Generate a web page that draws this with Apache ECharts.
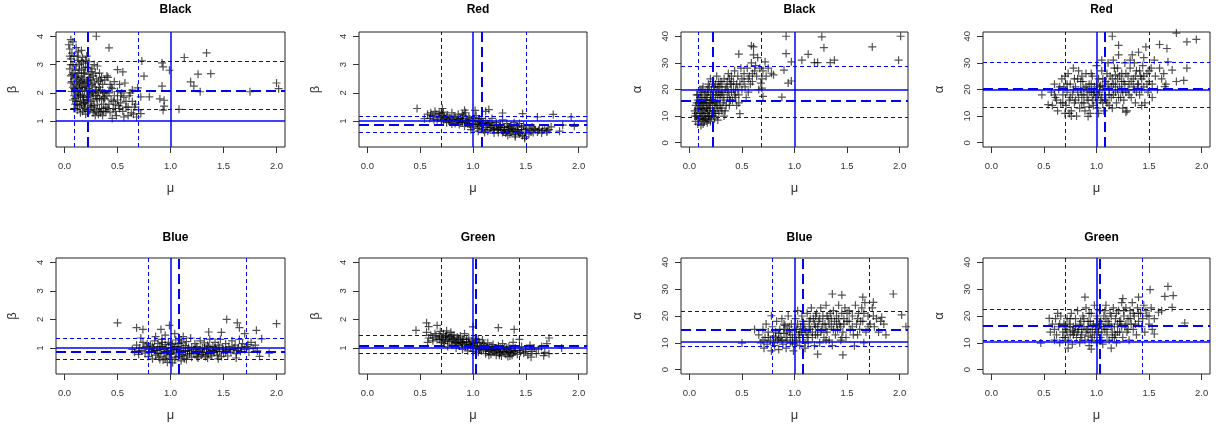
<!DOCTYPE html>
<html><head><meta charset="utf-8">
<script src="https://cdn.jsdelivr.net/npm/echarts@6/dist/echarts.min.js"></script>
<style>html,body{margin:0;padding:0;background:#fff}#c{width:1216px;height:426px}</style>
</head><body><div id="c"></div>
<script>
const muTicks = [0, 0.5, 1, 1.5, 2];
const betaTicks = [1, 2, 3, 4];
const alphaTicks = [0, 10, 20, 30, 40];
const panelTitles = ['Black', 'Red', 'Black', 'Red', 'Blue', 'Green', 'Blue', 'Green'];
const panelYName = ['β', 'β', 'α', 'α', 'β', 'β', 'α', 'α'];

// reference lines per panel
const vSolid = [1, 1, 1, 1, 1, 1, 1, 1];
const hSolid = [1, 1, 20, 20, 1, 1, 10.3, 10.3];
const vThick = [0.22, 1.08, 0.22, 1.08, 1.08, 1.03, 1.08, 1.03];
const hThick = [2.08, 0.86, 15.8, 20.3, 0.88, 1.08, 14.7, 16.3];
const vThin = [[0.09, 0.70], [0.70, 1.50], [0.08, 0.68], [0.70, 1.50], [0.79, 1.71], [0.70, 1.44], [0.79, 1.71], [0.70, 1.44]];
const hThin = [[3.13, 1.42], [1.18, 0.61], [28.6, 9.4], [30.2, 13.3], [1.33, 0.61], [1.45, 0.81], [21.9, 8.8], [22.5, 11.1]];

const ptsBlackBeta = [
[0.05,3.55],[0.07,3.4],[0.06,3.2],[0.08,3.0],[0.05,2.85],[0.07,2.65],[0.09,2.5],[0.06,2.35],[0.08,2.2],[0.07,2.05],[0.09,1.9],[0.08,1.75],[0.10,1.6],[0.09,1.45],[0.04,3.7],[0.06,2.6],[0.10,2.8],[0.10,2.1],
[0.11,3.6],[0.12,3.3],[0.13,3.15],[0.11,2.95],[0.14,2.8],[0.12,2.6],[0.13,2.45],[0.11,2.3],[0.14,2.15],[0.12,2.0],[0.13,1.85],[0.11,1.7],[0.14,1.55],[0.12,1.4],[0.15,1.3],[0.14,3.0],[0.15,2.4],[0.15,1.9],
[0.16,3.5],[0.17,3.25],[0.18,3.05],[0.16,2.85],[0.19,2.7],[0.17,2.5],[0.18,2.35],[0.16,2.2],[0.19,2.05],[0.17,1.9],[0.18,1.75],[0.16,1.6],[0.19,1.45],[0.17,1.35],[0.20,1.25],[0.20,2.9],[0.20,2.2],[0.20,1.65],
[0.21,3.3],[0.23,3.1],[0.22,2.9],[0.25,2.75],[0.24,2.55],[0.21,2.4],[0.26,2.3],[0.23,2.15],[0.27,2.0],[0.22,1.85],[0.25,1.7],[0.28,1.55],[0.24,1.4],[0.27,1.3],[0.29,1.2],[0.28,3.0],[0.30,2.5],[0.29,2.2],[0.30,1.8],[0.26,1.5],[0.24,1.95],[0.27,2.6],[0.22,1.6],[0.30,1.35],
[0.31,2.95],[0.33,2.7],[0.35,2.55],[0.32,2.4],[0.36,2.3],[0.34,2.1],[0.38,2.0],[0.31,1.9],[0.35,1.75],[0.37,1.6],[0.33,1.45],[0.39,1.35],[0.32,1.25],[0.36,1.2],[0.40,2.6],[0.38,2.45],[0.40,1.9],[0.39,1.5],[0.33,2.2],[0.37,1.85],[0.34,1.3],
[0.41,2.55],[0.43,2.3],[0.45,2.15],[0.42,2.0],[0.47,1.9],[0.44,1.75],[0.48,1.6],[0.46,1.45],[0.43,1.3],[0.49,1.2],[0.47,2.4],[0.50,2.05],[0.45,1.1],[0.42,1.6],[0.50,1.75],
[0.52,2.3],[0.54,2.0],[0.56,1.85],[0.53,1.65],[0.58,1.5],[0.55,1.35],[0.60,1.2],[0.62,2.0],[0.64,1.7],[0.66,1.5],[0.63,1.3],[0.68,1.15],[0.70,1.4],[0.57,2.35],[0.61,1.9],[0.67,1.6],[0.52,1.45],[0.56,1.15],
[0.06,3.0],[0.08,2.7],[0.07,2.4],[0.09,2.15],[0.10,1.8],[0.11,2.55],[0.12,2.25],[0.13,1.95],[0.13,2.7],[0.14,2.35],[0.15,2.05],[0.15,1.7],[0.16,3.1],[0.16,2.55],[0.17,2.2],[0.18,1.85],[0.18,2.7],[0.19,2.35],[0.19,1.65],[0.20,3.15],[0.21,2.1],[0.21,1.75],[0.22,2.45],[0.22,1.35],[0.23,2.65],[0.23,1.9],[0.24,2.25],[0.25,1.55],[0.25,2.45],[0.26,2.0],[0.27,1.75],[0.28,2.35],[0.28,1.4],[0.29,2.7],[0.29,1.9],[0.30,2.1],[0.31,1.6],[0.32,2.05],[0.33,1.8],[0.34,2.45],[0.35,1.45],[0.36,2.0],[0.37,1.35],[0.38,1.8],[0.41,1.45],[0.44,2.2],[0.46,1.7],[0.48,1.35],[0.51,1.55],[0.53,1.9],[0.58,1.7],[0.60,1.5],[0.65,1.25],[0.05,3.3],[0.09,3.3],[0.13,3.45],[0.12,1.6],[0.10,1.45],[0.18,1.5],[0.26,2.85],
[0.30,4.0],[0.42,3.59],[0.73,3.13],[0.75,2.59],[0.92,3.06],[0.93,2.92],[0.99,2.80],[0.92,2.24],[0.90,1.79],[0.94,1.74],[0.93,1.39],[1.08,1.42],[0.94,1.53],[1.13,3.25],[1.34,3.41],[1.26,2.66],[1.38,2.68],[1.19,2.39],[1.22,2.24],[1.28,2.04],[1.75,2.04],[2.0,2.35],[2.02,2.15],[0.80,1.86],[0.72,1.86],[0.72,1.27],[0.06,3.88],[0.08,3.8],[0.69,2.18],[0.64,2.1],[0.50,2.82],[0.55,2.74]
];
const ptsRedBeta = [
[0.57,1.25],[0.59,1.1],[0.60,1.3],[0.62,1.18],[0.63,1.05],[0.65,1.25],[0.64,1.35],
[0.67,1.12],[0.68,1.28],[0.70,1.0],[0.71,1.2],[0.72,1.32],[0.74,1.08],[0.75,0.95],[0.76,1.22],[0.78,1.12],[0.79,0.98],[0.80,1.3],[0.73,1.15],[0.77,1.05],
[0.82,1.18],[0.83,0.92],[0.84,1.05],[0.86,1.25],[0.87,0.88],[0.88,1.1],[0.90,0.98],[0.91,1.2],[0.92,0.82],[0.94,1.05],[0.95,0.92],[0.96,1.15],[0.98,0.8],[0.99,1.0],[0.85,0.98],[0.93,1.3],[0.97,0.9],[0.89,1.02],
[1.01,1.12],[1.02,0.88],[1.04,0.75],[1.05,1.0],[1.06,0.82],[1.08,1.1],[1.09,0.92],[1.10,0.7],[1.12,1.02],[1.13,0.85],[1.14,0.65],[1.16,0.95],[1.17,0.78],[1.18,1.1],[1.19,0.68],[1.03,1.2],[1.11,0.6],[1.15,0.9],[1.07,0.95],[1.20,0.85],
[1.22,0.95],[1.23,0.72],[1.24,0.6],[1.26,0.88],[1.27,0.68],[1.28,1.05],[1.30,0.78],[1.31,0.58],[1.32,0.92],[1.34,0.7],[1.35,0.55],[1.36,0.85],[1.38,0.65],[1.39,0.95],[1.40,0.52],[1.25,0.8],[1.29,0.62],[1.33,0.8],[1.37,0.75],
[1.42,0.8],[1.43,0.62],[1.44,0.92],[1.46,0.7],[1.47,0.5],[1.48,0.85],[1.50,0.62],[1.51,0.75],[1.53,0.55],[1.54,0.68],[1.56,0.8],[1.57,0.6],[1.59,0.7],[1.45,0.58],[1.49,0.45],
[1.61,0.62],[1.63,0.72],[1.65,0.58],[1.66,0.68],[1.68,0.75],[1.70,0.62],[1.72,0.7],[1.74,0.8],
[0.60,1.2],[0.66,1.05],[0.69,1.15],[0.72,1.05],[0.75,1.15],[0.78,1.0],[0.81,1.05],[0.83,1.12],[0.86,1.05],[0.88,0.95],[0.90,1.1],[0.93,0.95],[0.95,1.02],[0.97,1.08],[1.00,0.9],[1.02,1.0],[1.04,0.9],[1.06,1.08],[1.08,0.85],[1.10,0.95],[1.12,0.78],[1.14,0.92],[1.16,0.7],[1.18,0.85],[1.20,0.75],[1.22,0.85],[1.24,0.7],[1.26,0.78],[1.28,0.6],[1.30,0.7],[1.32,0.65],[1.34,0.8],[1.36,0.62],[1.38,0.72],[1.40,0.65],[1.42,0.7],[1.44,0.55],[1.46,0.8],[1.50,0.7],[1.55,0.62],[1.58,0.75],[1.62,0.68],[0.80,0.9],[0.98,0.7],[1.05,0.65],[1.20,0.58],[1.33,0.5],[1.40,0.45],[0.70,1.3],[0.90,1.25],
[0.47,1.45],[0.71,1.45],[1.15,1.41],[1.28,1.29],[1.47,1.27],[1.61,1.15],[1.76,1.24],[1.93,1.15],[1.96,0.82],[1.85,0.86],[1.82,0.65],[1.70,0.66],[0.54,1.09],[0.92,1.39],[1.49,0.39],[1.12,1.35],[1.02,1.38]
];
const ptsBlackAlpha = [
[0.05,12],[0.06,14],[0.07,10],[0.08,16],[0.06,8],[0.09,13],[0.07,18],[0.10,11],[0.08,7],[0.09,15],[0.10,20],[0.05,10],[0.10,9],
[0.11,13],[0.12,17],[0.13,10],[0.11,19],[0.14,8],[0.12,14],[0.13,21],[0.14,12],[0.15,16],[0.11,6.5],[0.13,15],[0.15,9],[0.12,11],[0.14,18],
[0.16,13],[0.17,20],[0.18,10],[0.16,17],[0.19,15],[0.17,7.5],[0.18,22],[0.19,12],[0.20,18],[0.16,9],[0.18,14],[0.20,24],[0.17,11],[0.20,8],
[0.21,16],[0.22,12],[0.23,20],[0.24,9],[0.25,18],[0.26,14],[0.22,23],[0.27,21],[0.28,11],[0.29,17],[0.30,23],[0.24,15],[0.26,25],[0.28,19],[0.30,13],[0.23,10],[0.25,22],[0.27,8.5],
[0.31,19],[0.32,15],[0.33,24],[0.34,12],[0.35,21],[0.36,17],[0.37,26],[0.38,14],[0.39,22],[0.40,19],[0.33,10],[0.36,23],[0.40,25],[0.38,17],
[0.41,16],[0.42,23],[0.43,27],[0.44,20],[0.45,14],[0.46,25],[0.47,18],[0.48,22],[0.49,28],[0.50,24],[0.44,17],[0.47,15],
[0.52,26],[0.53,21],[0.55,28],[0.56,19],[0.57,25],[0.59,30],[0.60,23],[0.62,27],[0.64,25],[0.65,32],[0.67,28],[0.69,24],[0.54,17],[0.58,22],[0.63,29],[0.66,20],[0.70,27],[0.61,33],
[0.06,11],[0.07,15],[0.08,12.5],[0.09,9],[0.10,14],[0.11,16],[0.11,10],[0.12,8.5],[0.12,20],[0.13,12.5],[0.14,15],[0.15,11],[0.15,19],[0.16,15],[0.17,13],[0.17,17],[0.18,8.5],[0.18,19],[0.19,10],[0.19,21],[0.20,13],[0.20,16],[0.21,10],[0.21,20],[0.22,14],[0.22,18],[0.23,16],[0.24,12],[0.24,21],[0.25,11],[0.25,15],[0.26,19],[0.27,13],[0.27,17],[0.28,23],[0.29,14],[0.29,21],[0.30,18],[0.31,12],[0.31,22],[0.32,18],[0.33,16],[0.34,20],[0.35,14],[0.36,20],[0.37,19],[0.38,24],[0.39,16],[0.40,22],[0.42,20],[0.43,18],[0.45,22],[0.46,20],[0.50,20],[0.52,23],[0.56,24],[0.60,26],[0.08,18],[0.10,17],[0.13,7],
[0.92,40],[0.92,33.5],[0.97,30.4],[0.90,27.3],[0.88,17.1],[0.97,23.2],[0.94,22.4],[1.07,31],[1.13,33.2],[1.19,30.1],[1.22,30.1],[1.26,39.8],[1.28,35.7],[1.34,30.1],[1.38,31],[1.74,36],[2.01,40],[1.99,31],[0.47,33.3],[0.59,36.4],[0.61,36],[0.48,10.9],[0.70,17.4],[0.72,30.4],[0.78,26.1],[0.69,20.5],[0.68,22.4],[0.75,28],[0.73,25],[0.80,25.5]
];
const ptsRedAlpha = [
[0.57,19],[0.58,14],[0.60,22],[0.61,17],[0.63,12],[0.64,20],[0.66,15],[0.67,24],[0.68,18],[0.70,11],[0.69,21],[0.62,16],
[0.71,14],[0.72,19],[0.73,26],[0.74,16],[0.75,22],[0.76,12],[0.77,18],[0.78,28],[0.79,15],[0.80,21],[0.81,10],[0.82,24],[0.83,17],[0.84,13],[0.85,20],[0.74,11],[0.79,24],[0.83,27],
[0.86,15],[0.87,23],[0.88,18],[0.89,12],[0.90,26],[0.91,20],[0.92,16],[0.93,22],[0.94,11],[0.95,19],[0.96,25],[0.97,14],[0.98,21],[0.99,17],[1.00,29],[0.88,20.5],[0.93,13.5],[0.97,18],
[1.01,13],[1.02,24],[1.03,19],[1.04,16],[1.05,27],[1.06,21],[1.07,12],[1.08,18],[1.09,23],[1.10,15],[1.11,30],[1.12,20],[1.13,25],[1.14,17],[1.15,13],[1.04,21.5],[1.10,26],[1.06,15],
[1.16,22],[1.17,28],[1.18,19],[1.19,15],[1.20,24],[1.21,33],[1.22,21],[1.23,17],[1.24,26],[1.25,13],[1.26,23],[1.27,30],[1.28,19],[1.29,12],[1.30,25],[1.18,25.5],[1.24,20],
[1.31,22],[1.32,28],[1.33,17],[1.34,33],[1.35,24],[1.36,20],[1.37,15],[1.38,27],[1.39,22],[1.40,34],[1.41,18],[1.42,25],[1.44,29],[1.45,21],[1.46,15],[1.47,36],[1.48,26],[1.49,19],[1.50,23],[1.36,30],[1.43,20],
[1.52,28],[1.53,22],[1.55,31],[1.56,25],[1.58,20],[1.60,28],[1.62,24],[1.64,26],[1.66,22],[1.53,17],
[0.60,18],[0.65,21],[0.68,15],[0.72,22],[0.75,17],[0.78,20],[0.80,16],[0.82,19],[0.85,23],[0.86,18],[0.88,15],[0.90,21],[0.91,17],[0.93,19],[0.95,22],[0.96,16],[0.98,19],[1.00,22],[1.00,15],[1.02,18],[1.03,21],[1.05,17],[1.06,24],[1.08,20],[1.09,16],[1.11,22],[1.12,18],[1.14,21],[1.15,24],[1.16,18],[1.18,22],[1.20,20],[1.21,17],[1.22,25],[1.24,23],[1.25,19],[1.27,22],[1.28,26],[1.30,20],[1.31,18],[1.33,23],[1.35,21],[1.37,25],[1.38,19],[1.40,22],[1.41,27],[1.43,24],[1.45,25],[1.48,22],[1.50,27],[1.12,14],[1.20,28],[0.95,26],[0.86,25],[1.32,31],[1.45,32],[1.26,16],[0.70,25],[1.02,11],[1.16,31],
[0.48,18],[0.54,14.3],[1.15,40],[1.76,41.2],[1.86,37.9],[1.95,38.8],[1.86,28],[1.83,23.4],[1.76,23],[1.60,36.9],[1.67,35.4],[1.68,30.4],[1.72,27.3],[1.65,21.1],[1.21,36.6],[0.92,9.9],[0.76,10],[1.28,11.5],[1.43,14],[1.05,31]
];
const ptsBlueBeta = [
[0.64,0.95],[0.66,0.85],[0.68,1.1],[0.70,0.78],[0.71,1.0],[0.73,0.9],[0.74,1.2],[0.76,0.82],[0.77,1.05],[0.79,0.7],[0.80,0.95],[0.72,1.35],[0.78,1.15],
[0.81,1.1],[0.82,0.85],[0.83,0.62],[0.84,1.0],[0.85,1.25],[0.86,0.75],[0.87,0.92],[0.88,1.15],[0.89,0.68],[0.90,1.05],[0.91,0.82],[0.92,1.3],[0.93,0.58],[0.94,0.95],[0.95,1.12],[0.96,0.72],[0.97,0.88],[0.98,1.2],[0.99,0.65],[1.00,1.0],[0.86,1.4],[0.95,1.45],[0.90,0.6],[0.97,0.5],
[1.01,0.8],[1.02,1.12],[1.03,0.95],[1.04,0.6],[1.05,1.28],[1.06,0.85],[1.07,1.05],[1.08,0.7],[1.09,0.92],[1.10,1.18],[1.11,0.78],[1.12,1.0],[1.13,0.62],[1.14,0.88],[1.15,1.22],[1.16,0.75],[1.17,1.02],[1.18,0.9],[1.19,1.35],[1.20,0.68],[1.04,1.5],[1.12,1.4],[1.02,0.48],[1.10,0.55],
[1.22,0.95],[1.23,1.15],[1.24,0.8],[1.25,1.05],[1.26,0.65],[1.27,0.9],[1.28,1.25],[1.29,0.75],[1.30,1.0],[1.31,0.85],[1.32,1.18],[1.33,0.7],[1.34,0.95],[1.35,1.1],[1.36,0.8],[1.37,1.3],[1.38,0.9],[1.39,0.72],[1.40,1.05],
[1.41,0.85],[1.42,1.2],[1.43,0.95],[1.44,0.75],[1.45,1.1],[1.46,0.88],[1.47,1.3],[1.48,0.7],[1.49,1.0],[1.50,0.82],[1.52,1.15],[1.53,0.92],[1.54,0.72],[1.55,1.05],[1.57,0.85],[1.58,1.25],[1.59,0.95],
[1.61,1.1],[1.62,0.8],[1.64,1.0],[1.65,1.3],[1.66,0.88],[1.68,1.15],[1.70,0.95],[1.72,1.05],[1.74,0.85],[1.76,1.2],[1.78,0.98],[1.80,1.1],[1.82,0.9],
[0.70,0.9],[0.75,1.0],[0.80,0.85],[0.83,1.05],[0.85,0.92],[0.88,0.8],[0.90,0.95],[0.92,1.05],[0.94,0.8],[0.96,1.0],[0.98,0.9],[1.00,0.78],[1.00,1.15],[1.02,0.9],[1.04,1.05],[1.06,0.95],[1.08,1.15],[1.10,0.85],[1.12,0.72],[1.14,1.08],[1.16,0.92],[1.18,0.8],[1.20,1.02],[1.22,0.82],[1.24,1.0],[1.26,0.85],[1.28,0.95],[1.30,0.78],[1.32,1.0],[1.34,0.85],[1.36,1.05],[1.38,0.8],[1.40,0.92],[1.42,1.0],[1.44,0.88],[1.46,1.02],[1.50,0.95],[1.52,0.85],[1.56,0.95],[1.60,1.0],[1.63,0.92],[1.67,1.02],[0.95,0.62],[1.05,0.68],[1.15,0.6],[1.25,0.7],[1.35,0.65],[1.45,0.62],[0.92,1.2],[1.10,1.28],
[0.50,1.88],[1.53,2.0],[1.63,1.88],[2.0,1.85],[1.65,1.71],[0.68,1.71],[0.74,1.65],[0.91,1.65],[0.99,1.79],[1.36,1.56],[1.81,1.62],[1.93,0.82],[1.84,0.71],[1.62,0.65],[1.73,1.12],[1.86,1.32],[1.70,1.5],[1.48,1.55]
];
const ptsGreenBeta = [
[0.56,1.55],[0.58,1.35],[0.60,1.45],[0.62,1.25],[0.64,1.5],[0.66,1.3],[0.68,1.42],[0.70,1.2],[0.69,1.58],[0.57,1.2],
[0.71,1.35],[0.72,1.5],[0.73,1.15],[0.74,1.28],[0.75,1.45],[0.76,1.05],[0.77,1.38],[0.78,1.22],[0.79,1.55],[0.80,1.1],[0.81,1.32],[0.82,1.45],[0.83,1.18],[0.84,1.0],[0.85,1.38],[0.75,1.6],
[0.86,1.25],[0.87,1.08],[0.88,1.42],[0.89,1.15],[0.90,0.95],[0.91,1.3],[0.92,1.5],[0.93,1.05],[0.94,1.22],[0.95,0.9],[0.96,1.35],[0.97,1.12],[0.98,1.0],[0.99,1.25],[1.00,0.88],[0.90,1.2],
[1.01,1.15],[1.02,1.32],[1.03,0.98],[1.04,1.08],[1.05,0.85],[1.06,1.2],[1.07,1.02],[1.08,0.9],[1.09,1.28],[1.10,0.95],[1.11,1.1],[1.12,0.8],[1.13,1.0],[1.14,1.18],[1.15,0.88],[1.16,1.05],[1.17,0.78],[1.18,0.95],[1.19,1.12],[1.20,0.85],
[1.21,1.0],[1.22,0.75],[1.23,0.92],[1.24,1.08],[1.25,0.82],[1.26,0.98],[1.27,0.72],[1.28,1.15],[1.29,0.88],[1.30,1.02],[1.31,0.78],[1.32,0.95],[1.33,0.7],[1.34,1.05],[1.35,0.85],[1.36,0.98],[1.37,0.75],[1.38,1.2],[1.39,0.88],[1.40,1.0],[1.42,0.78],[1.44,0.92],
[1.46,1.05],[1.48,0.82],[1.50,0.95],[1.52,0.75],[1.54,1.1],[1.56,0.88],[1.58,1.0],[1.60,0.8],[1.62,0.95],[1.65,1.05],[1.68,0.85],[1.70,1.15],
[0.62,1.35],[0.65,1.42],[0.68,1.3],[0.70,1.38],[0.72,1.25],[0.74,1.42],[0.76,1.3],[0.78,1.4],[0.80,1.25],[0.82,1.3],[0.84,1.2],[0.86,1.35],[0.88,1.2],[0.90,1.3],[0.92,1.12],[0.94,1.3],[0.96,1.2],[0.98,1.1],[1.00,1.15],[1.02,1.05],[1.04,1.2],[1.06,0.95],[1.08,1.05],[1.10,1.15],[1.12,0.95],[1.14,1.0],[1.16,0.92],[1.18,1.05],[1.20,0.95],[1.22,0.9],[1.24,0.98],[1.26,0.85],[1.28,0.95],[1.30,0.88],[1.32,1.0],[1.34,0.85],[1.36,0.9],[1.38,0.82],[1.40,0.92],[1.45,0.85],[1.50,0.88],[1.55,0.95],[0.80,1.45],[0.85,1.15],[0.95,1.05],[1.05,1.3],[1.15,0.75],[1.25,0.75],[1.35,0.72],
[0.46,1.62],[0.56,1.88],[0.66,1.79],[1.24,1.71],[1.39,1.65],[1.72,1.35],[1.84,1.0],[1.00,1.74],[1.67,0.73],[1.72,0.8],[1.55,0.68],[0.58,1.75],[1.44,1.3]
];
const ptsBlueAlpha = [
[0.66,13],[0.68,10],[0.70,15],[0.71,8],[0.72,12],[0.74,9.5],[0.75,14],[0.77,11],[0.78,7],[0.79,16],[0.80,12.5],[0.73,17],
[0.81,9],[0.82,14],[0.83,18],[0.84,11],[0.85,7.5],[0.86,15],[0.87,12],[0.88,19],[0.89,9.5],[0.90,13.5],[0.91,16.5],[0.92,8],[0.93,11],[0.94,20],[0.95,14],[0.96,10],[0.97,17],[0.98,12],[0.99,7],[1.00,15],[0.85,11.5],[0.93,14.5],
[1.01,19],[1.02,11],[1.03,22],[1.04,13],[1.05,9],[1.06,16],[1.07,20],[1.08,12],[1.09,17],[1.10,8],[1.11,14],[1.12,21],[1.13,10],[1.14,18],[1.15,15],[1.16,23],[1.17,12],[1.18,19],[1.19,9],[1.20,16],[1.05,14],[1.13,13],
[1.21,21],[1.22,13],[1.23,18],[1.24,10],[1.25,23],[1.26,15],[1.27,20],[1.28,12],[1.29,17],[1.30,24],[1.31,14],[1.32,19],[1.33,11],[1.34,21],[1.35,16],[1.36,9],[1.37,22],[1.38,18],[1.39,13],[1.40,20],
[1.41,15],[1.42,24],[1.43,17],[1.44,11],[1.45,21],[1.46,14],[1.47,19],[1.48,23],[1.49,12],[1.50,18],[1.52,22],[1.53,15],[1.55,20],[1.56,13],[1.58,24],[1.59,17],
[1.61,21],[1.62,15],[1.64,23],[1.65,18],[1.67,25],[1.68,14],[1.70,20],[1.72,17],[1.74,23],[1.76,16],[1.78,19],[1.80,14],[1.82,18],[1.85,17],
[0.70,11],[0.75,12],[0.80,10],[0.82,12],[0.85,13.5],[0.88,11],[0.90,15],[0.92,12],[0.95,16],[0.96,13],[0.98,10],[1.00,12],[1.02,15],[1.03,17],[1.05,12],[1.07,14],[1.08,18],[1.10,15],[1.12,12],[1.14,16],[1.15,19],[1.17,14],[1.19,17],[1.20,13],[1.22,16],[1.24,19],[1.25,14],[1.27,17],[1.30,15],[1.31,20],[1.33,17],[1.35,19],[1.37,15],[1.40,17],[1.42,19],[1.44,16],[1.47,17],[1.50,21],[1.52,18],[1.55,16],[1.60,19],[1.63,18],[1.66,21],[1.70,16],[1.75,20],[0.90,17],[1.10,10],[1.20,20],[1.30,11],[1.45,12],[1.60,13],[1.00,9.5],
[0.50,9.9],[0.78,20.1],[1.36,28.2],[1.45,27.8],[1.94,28.2],[2.02,20.4],[1.46,5.5],[1.22,5.8],[1.57,8.9],[1.65,27.0],[1.75,25.1],[1.83,19.5],[1.87,13],[2.06,16],[1.66,10],[0.62,15]
];
const ptsGreenAlpha = [
[0.56,14],[0.58,17],[0.60,11],[0.61,19],[0.62,13],[0.64,16],[0.65,10],[0.66,20],[0.68,14],[0.69,17],[0.70,12],[0.63,21],
[0.71,15],[0.72,19],[0.73,11],[0.74,17],[0.75,13],[0.76,21],[0.77,9.5],[0.78,16],[0.79,14],[0.80,19],[0.81,12],[0.82,22],[0.83,15],[0.84,10],[0.85,18],[0.77,14.5],
[0.86,13],[0.87,20],[0.88,16],[0.89,11],[0.90,23],[0.91,15],[0.92,18],[0.93,9],[0.94,14],[0.95,21],[0.96,12],[0.97,17],[0.98,24],[0.99,15],[1.00,10],[0.92,12.5],
[1.01,19],[1.02,14],[1.03,22],[1.04,12],[1.05,17],[1.06,9.5],[1.07,20],[1.08,15],[1.09,24],[1.10,13],[1.11,18],[1.12,11],[1.13,21],[1.14,16],[1.15,14],[1.16,23],[1.17,12],[1.18,19],[1.19,10],[1.20,17],
[1.21,22],[1.22,14],[1.23,18],[1.24,25],[1.25,12],[1.26,20],[1.27,16],[1.28,23],[1.29,14],[1.30,19],[1.31,11],[1.32,22],[1.33,17],[1.34,25],[1.35,15],[1.36,20],[1.38,13],[1.39,23],[1.40,18],
[1.42,21],[1.43,16],[1.45,24],[1.46,14],[1.48,20],[1.50,17],[1.52,23],[1.53,15],[1.55,19],
[0.60,15],[0.65,17],[0.68,12],[0.70,16],[0.72,14],[0.75,16],[0.78,13],[0.80,16],[0.82,14],[0.84,17],[0.86,15],[0.88,19],[0.90,14],[0.92,16],[0.94,18],[0.96,15],[0.98,13],[1.00,17],[1.00,20],[1.02,16],[1.04,18],[1.05,14],[1.07,16],[1.09,19],[1.10,15],[1.12,17],[1.14,20],[1.15,12],[1.17,16],[1.19,21],[1.20,14],[1.22,18],[1.24,16],[1.26,22],[1.28,17],[1.30,15],[1.32,19],[1.35,21],[1.37,17],[1.40,21],[1.44,19],[1.47,22],[1.50,20],[0.85,12],[0.95,11],[1.05,11],[1.18,13],[0.75,19],[0.93,21],[1.08,22],
[0.47,9.9],[0.55,19.1],[0.89,27],[1.68,31],[1.73,27.6],[1.65,27.3],[1.51,29.8],[1.72,23.2],[1.84,17.4],[1.59,21.4],[1.55,13.3],[0.73,8],[0.95,7.7],[1.14,8],[1.62,22],[1.40,27],[1.25,26.5]
];
const panelPoints = [ptsBlackBeta, ptsRedBeta, ptsBlackAlpha, ptsRedAlpha, ptsBlueBeta, ptsGreenBeta, ptsBlueAlpha, ptsGreenAlpha];

// layout (pixels)
const colLeft = [56, 359, 681, 983];
const colWidth = [229, 228, 227, 227];
const rowTop = [32, 258];
const rowHeight = [115, 116];
const titleTop = [-1, 227];

const plus = 'path://M3.4,0h1.2v8h-1.2zM0,3.4h8v1.2h-8z';
const BLUE = '#0000ff';
const FONT = 'Liberation Sans, Arial, sans-serif';

const grids = [], xAxes = [], yAxes = [], series = [], titles = [];
for (let i = 0; i < 8; i++) {
  const c = i % 4, r = Math.floor(i / 4);
  const isAlpha = panelYName[i] === 'α';
  grids.push({left: colLeft[c], top: rowTop[r], width: colWidth[c], height: rowHeight[r],
    show: true, borderColor: '#222', borderWidth: 1, backgroundColor: 'rgba(0,0,0,0)'});
  titles.push({text: panelTitles[i], left: colLeft[c] + colWidth[c] / 2, top: titleTop[r], textAlign: 'center',
    textStyle: {fontFamily: FONT, fontWeight: 'bold', fontSize: 12, color: '#000'}});
  xAxes.push({type: 'value', gridIndex: i, min: -0.08, max: 2.08,
    splitLine: {show: false}, axisLine: {show: false, onZero: false},
    axisTick: {show: true, length: 6, inside: false, customValues: muTicks, lineStyle: {color: '#333'}},
    axisLabel: {customValues: muTicks, formatter: v => v.toFixed(1), fontSize: 9.5, color: '#333', margin: 14, fontFamily: FONT},
    name: 'μ', nameLocation: 'middle', nameGap: 35,
    nameTextStyle: {fontSize: 13, color: '#333', fontFamily: FONT}});
  const yt = isAlpha ? alphaTicks : betaTicks;
  yAxes.push({type: 'value', gridIndex: i, min: isAlpha ? -1.6 : 0.09, max: isAlpha ? 41.6 : 4.15,
    splitLine: {show: false}, axisLine: {show: false, onZero: false},
    axisTick: {show: true, length: 6, inside: false, customValues: yt, lineStyle: {color: '#333'}},
    axisLabel: {customValues: yt, rotate: 90, fontSize: 9.5, color: '#333', margin: 11, fontFamily: FONT},
    name: panelYName[i], nameLocation: 'middle', nameGap: 37,
    nameTextStyle: {fontSize: 13, color: '#333', fontFamily: FONT}});
  const ml = [
    {xAxis: vSolid[i], lineStyle: {color: BLUE, width: 1.5, type: 'solid'}},
    {yAxis: hSolid[i], lineStyle: {color: BLUE, width: 1.5, type: 'solid'}},
    {xAxis: vThick[i], lineStyle: {color: BLUE, width: 2, type: [10, 5]}},
    {yAxis: hThick[i], lineStyle: {color: BLUE, width: 2, type: [10, 5]}}
  ];
  vThin[i].forEach(v => ml.push({xAxis: v, lineStyle: {color: BLUE, width: 1, type: [4, 3]}}));
  hThin[i].forEach(v => ml.push({yAxis: v, lineStyle: {color: BLUE, width: 1, type: [4, 3]}}));
  series.push({type: 'scatter', xAxisIndex: i, yAxisIndex: i, data: panelPoints[i],
    symbol: plus, symbolSize: 8, itemStyle: {color: 'rgba(0,0,0,0.85)'}, z: 2,
    markLine: {silent: true, symbol: ['none', 'none'], label: {show: false}, animation: false, data: ml, z: 3}});
}

const chart = echarts.init(document.getElementById('c'), null, {renderer: 'canvas'});
chart.setOption({animation: false, backgroundColor: '#fff', title: titles, grid: grids, xAxis: xAxes, yAxis: yAxes, series: series});
</script></body></html>
